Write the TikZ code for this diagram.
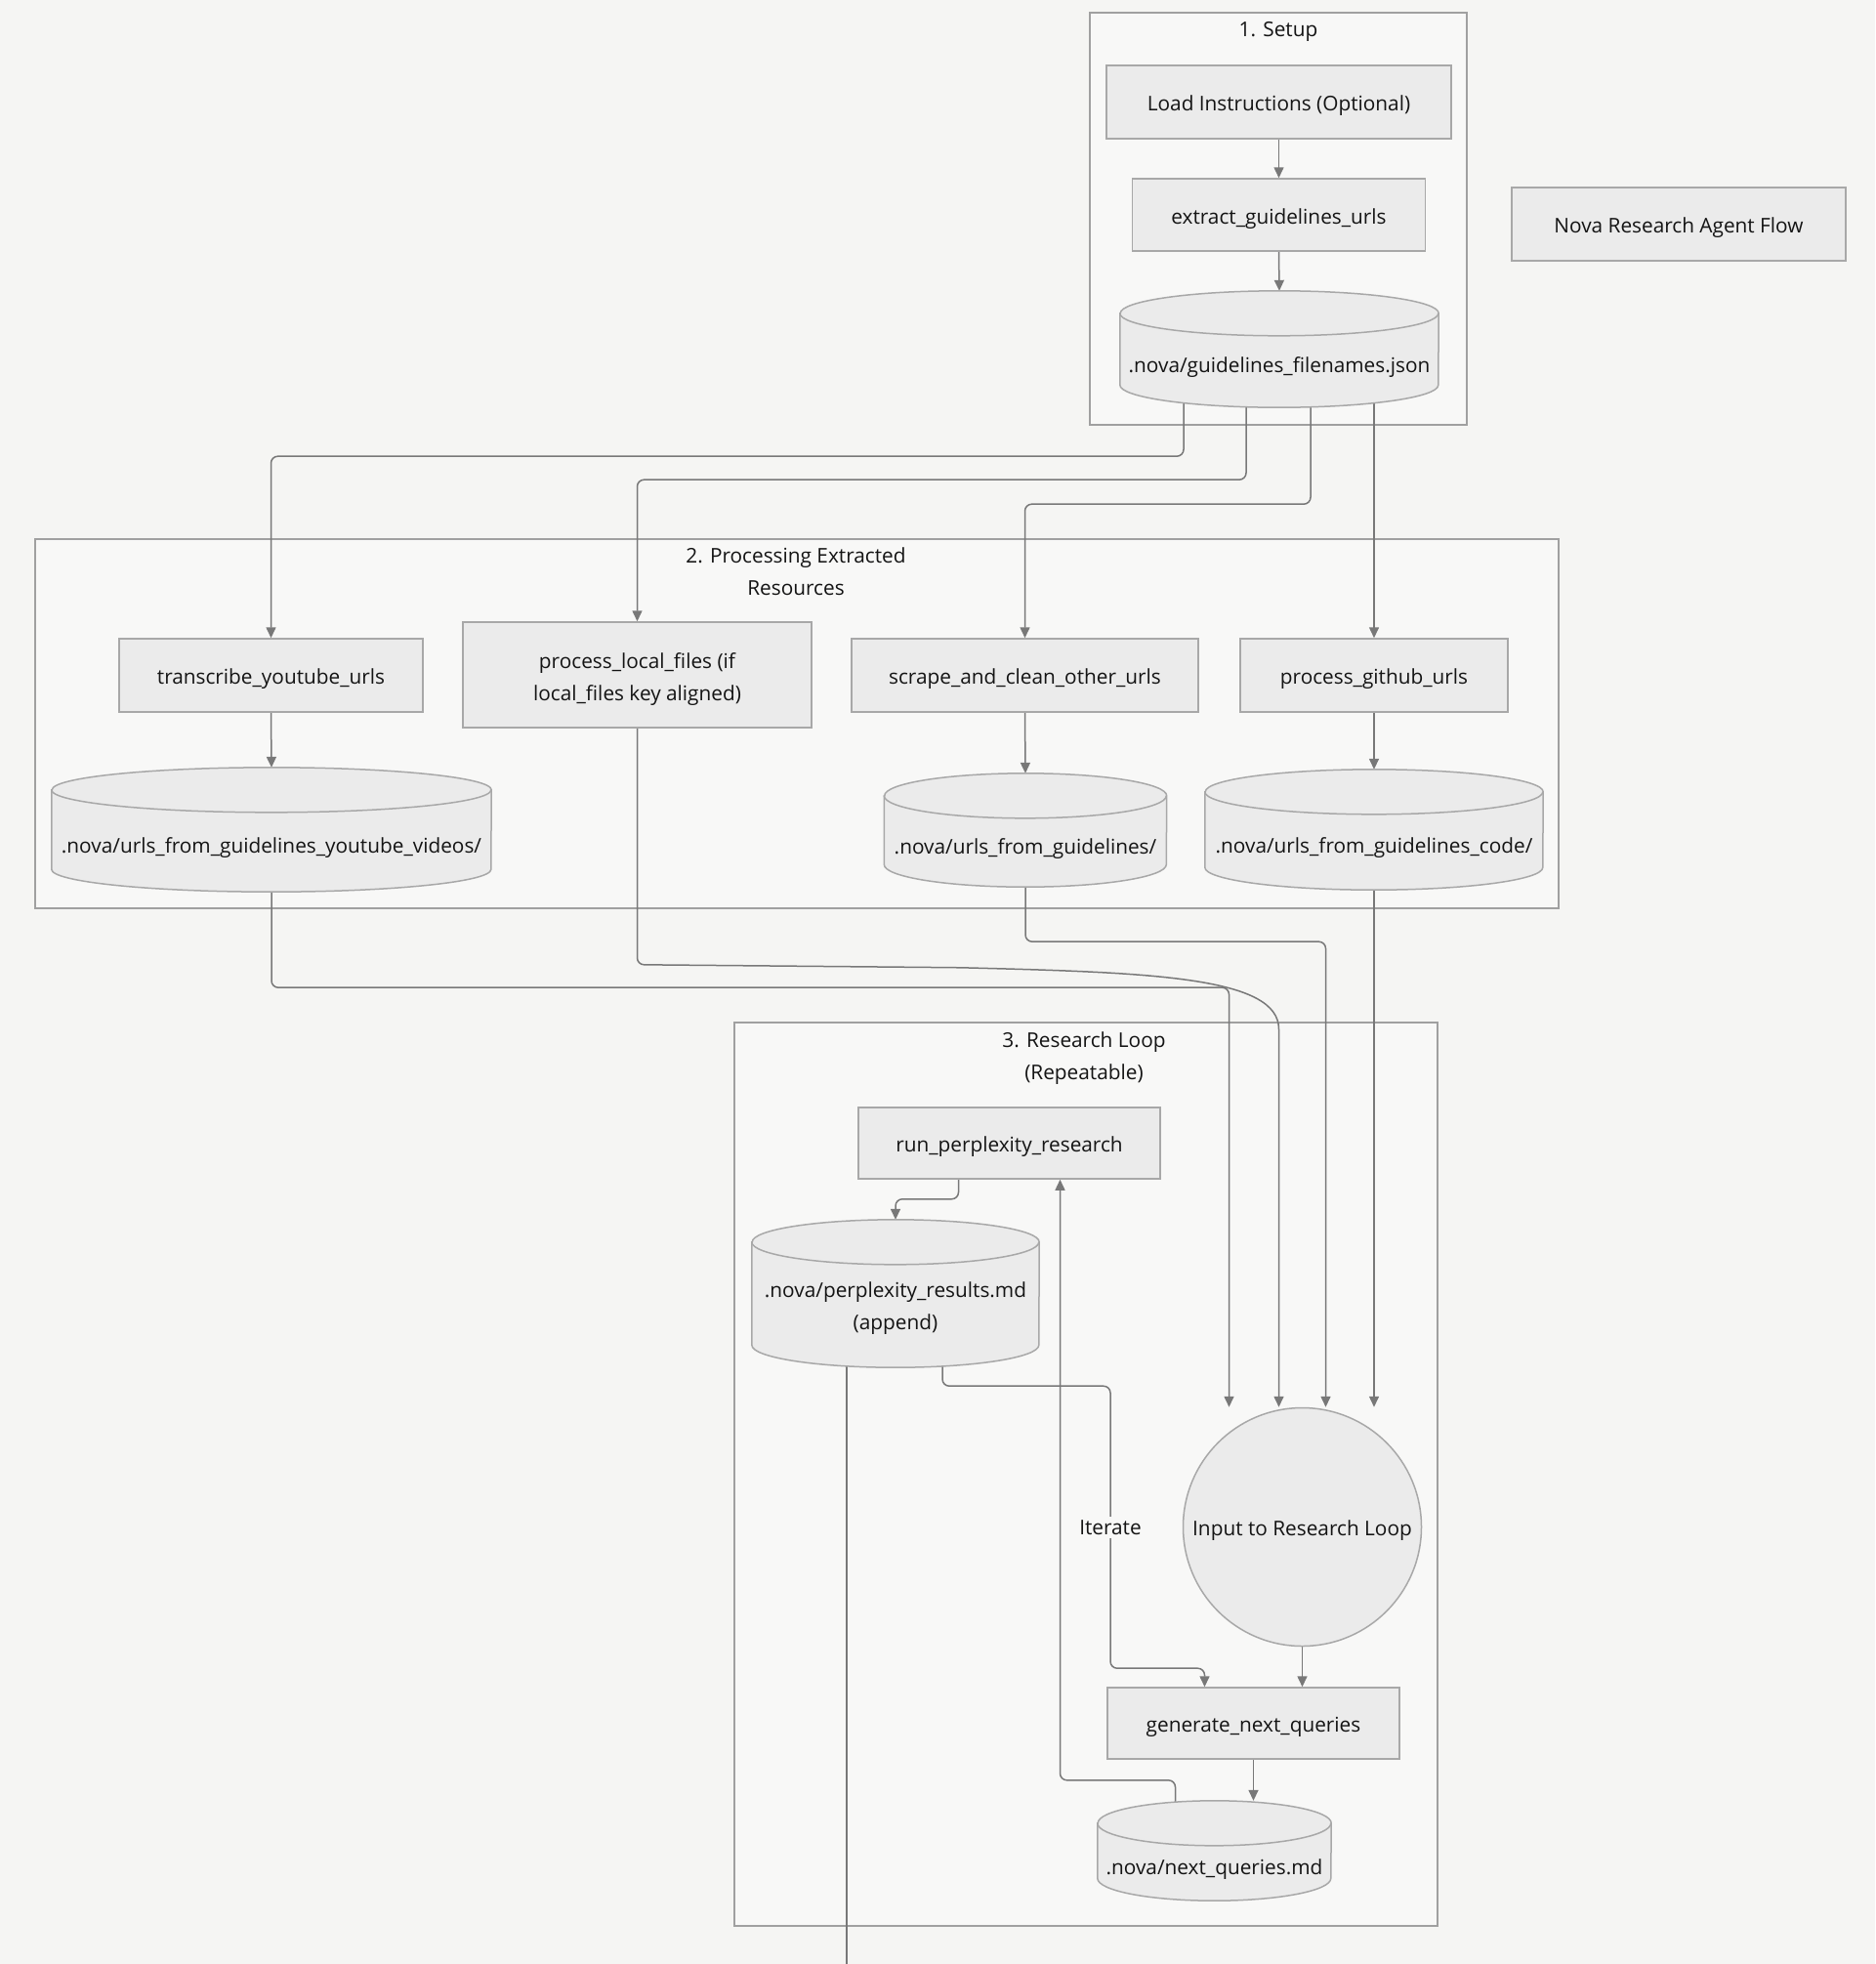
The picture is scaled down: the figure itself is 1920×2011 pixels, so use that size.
\documentclass[tikz,border=0pt]{standalone}
\usepackage{fontspec}
\setmainfont{Open Sans}
\usetikzlibrary{arrows.meta,calc}
\definecolor{bgc}{HTML}{F5F5F3}
\definecolor{secfill}{HTML}{F8F8F7}
\definecolor{secline}{HTML}{A0A0A0}
\definecolor{nodefill}{HTML}{EBEBEB}
\definecolor{nodeline}{HTML}{A8A8A8}
\definecolor{edgec}{HTML}{787878}
\definecolor{txt}{HTML}{141414}
\pgfdeclarelayer{seclayer}
\pgfdeclarelayer{edgelayer}
\pgfsetlayers{seclayer,edgelayer,main}
% cylinder: #1 name, #2 centre x, #3 top y, #4 width, #5 height, #6 text
\newcommand\mycyl[6]{%
  \node[cylbox, minimum width=#4pt, minimum height=#5pt] (#1) at (#2,{#3+#5/2}) {};
  \path[cylshape] ($(#1.north west)+(0,23)$) -- ($(#1.south west)+(0,-23)$)
     arc[start angle=180, end angle=360, x radius={#4*0.5pt}, y radius=23pt]
     -- ($(#1.north east)+(0,23)$)
     arc[start angle=0, end angle=180, x radius={#4*0.5pt}, y radius=23pt] -- cycle;
  \draw[cylshape, fill=none] ($(#1.north west)+(0,23)$)
     arc[start angle=180, end angle=360, x radius={#4*0.5pt}, y radius=23pt];
  \node[cyltext] (#1-t) at ($(#1)+(0,16)$) {#6};
}
\begin{document}
\begin{tikzpicture}[x=1pt,y=-1pt,
  font=\fontsize{20.8}{33}\selectfont, text=txt,
  procbox/.style={draw=nodeline, fill=nodefill, line width=1.5pt, rectangle, inner sep=0pt, align=center,
     execute at begin node={\rule[-6pt]{0pt}{30pt}}},
  plainbox/.style={draw=nodeline, fill=nodefill, line width=1.5pt, rectangle, inner sep=0pt},
  plaintext/.style={inner sep=0pt, align=center},
  secbox/.style={draw=secline, fill=secfill, line width=2pt, rectangle, inner sep=0pt},
  cylbox/.style={rectangle, inner sep=0pt, draw=none},
  cylshape/.style={draw=nodeline, fill=nodefill, line width=1.5pt},
  cyltext/.style={inner sep=0pt, align=center, execute at begin node={\rule[-6pt]{0pt}{28pt}}},
  sectitle/.style={inner sep=0pt, align=center},
  edge/.style={draw=edgec, line width=1.5pt, rounded corners=7pt},
  arr/.style={-{Triangle[length=11pt,width=10pt]}},
]
\begin{pgfonlayer}{seclayer}
  \fill[bgc] (0,0) rectangle (1920,2011);
  \node[secbox, minimum width=386pt, minimum height=422pt] (sec1) at (1309,224) {};
  \node[secbox, minimum width=1560pt, minimum height=378pt] (sec2) at (816,741) {};
  \node[secbox, minimum width=720pt, minimum height=925pt] (sec3) at (1112,1509.5) {};
\end{pgfonlayer}
\useasboundingbox (0,0) rectangle (1920,2011);

% titles
\node[sectitle] (t1) at (1309,32) {1. Setup};
\node[sectitle] (t2) at (815,585) {2. Processing Extracted\\Resources};
\node[sectitle] (t3) at (1110,1084) {3. Research Loop\\(Repeatable)};

% section 1
\node[procbox, minimum width=353pt, minimum height=75pt] (load) at (1309.5,104.5) {Load Instructions (Optional)};
\node[procbox, minimum width=300pt, minimum height=74pt] (extract) at (1309.5,220) {extract\_guidelines\_urls};
\mycyl{json}{1310}{298}{326}{119}{.nova/guidelines\_filenames.json}
\node[procbox, minimum width=342pt, minimum height=75pt] (nova) at (1719,229.5) {Nova Research Agent Flow};

% section 2
\node[procbox, minimum width=311pt, minimum height=75pt] (transcribe) at (277.5,691.5) {transcribe\_youtube\_urls};
\node[plainbox, minimum width=357pt, minimum height=108pt] (plocal) at (652.5,691) {};
\node[plaintext] (plocal-t) at ($(plocal)+(0,4.5)$) {process\_local\_files (if\\local\_files key aligned)};
\node[procbox, minimum width=355pt, minimum height=75pt] (scrape) at (1049.5,691.5) {scrape\_and\_clean\_other\_urls};
\node[procbox, minimum width=274pt, minimum height=75pt] (github) at (1407,691.5) {process\_github\_urls};
\mycyl{ytcyl}{278}{786}{450}{127}{.nova/urls\_from\_guidelines\_youtube\_videos/}
\mycyl{urlcyl}{1050}{792}{289}{116}{.nova/urls\_from\_guidelines/}
\mycyl{codecyl}{1407}{788}{346}{123}{.nova/urls\_from\_guidelines\_code/}

% section 3
\node[procbox, minimum width=309pt, minimum height=73pt] (run) at (1033.5,1170.5) {run\_perplexity\_research};
\mycyl{prcyl}{917}{1249}{294}{151}{.nova/perplexity\_results.md\\(append)}
\node[procbox, circle, minimum size=244pt] (input) at (1333.5,1563.5) {Input to Research Loop};
\node[procbox, minimum width=299pt, minimum height=73pt] (gen) at (1283.5,1764.5) {generate\_next\_queries};
\mycyl{nq}{1243.5}{1844}{239}{102}{.nova/next\_queries.md}
\node[fill=secfill, inner sep=3pt] (iterlbl) at (1137,1564) {Iterate};
\coordinate (offpage) at (867,2011);

\begin{pgfonlayer}{edgelayer}
  \draw[edge,arr] (load.south) -- (extract.north);
  \draw[edge,arr] (extract.south) -- (json.north);
  \draw[edge,arr] ($(json.south)+(-98,-8)$) -- ++(0,58) -| (transcribe.north);
  \draw[edge,arr] ($(json.south)+(-34,-8)$) -- ++(0,82) -| (plocal.north);
  \draw[edge,arr] ($(json.south)+(32,-8)$) -- ++(0,107) -| (scrape.north);
  \draw[edge,arr] ($(github.north |- json.south)+(0,-8)$) -- (github.north);
  \draw[edge,arr] ($(transcribe.south)$) -- (ytcyl.north);
  \draw[edge,arr] ($(scrape.south)$) -- (urlcyl.north);
  \draw[edge,arr] ($(github.south)$) -- (codecyl.north);
  \draw[edge,arr] ($(ytcyl.south)+(0,-8)$) -- ++(0,106) -| ($(input.north)+(-75,0)$);
  \draw[edge,arr] (plocal.south) -- ++(0,242) -- ++(330,3)
      .. controls +(200,5) and +(0,-60) .. ($(input.north)+(-24,-380)$)
      -- ($(input.north)+(-24,0)$);
  \draw[edge,arr] ($(urlcyl.south)+(0,-8)$) -- ++(0,64) -| ($(input.north)+(24,0)$);
  \draw[edge,arr] ($(codecyl.south)+(0,-8)$) -- (codecyl.south |- input.north);
  \draw[edge,arr] ($(run.south)+(-52,0)$) -- ++(0,20) -| (prcyl.north);
  \draw[edge,arr] ($(prcyl.south)+(48,-8)$) -- ++(0,27) -- ++(172,0) -- ++(0,289) -| ($(gen.north)+(-50,0)$);
  \draw[edge,arr] (input.south) -- (input.south |- gen.north);
  \draw[edge,arr] (gen.south) -- (gen.south |- nq.north);
  \draw[edge,arr] ($(nq.north)+(-40,8)$) -- ++(0,-29) -| ($(run.south)+(52,0)$);
  \draw[edge] ($(prcyl.south)+(-50,-8)$) -- (offpage);
\end{pgfonlayer}
\end{tikzpicture}
\end{document}
